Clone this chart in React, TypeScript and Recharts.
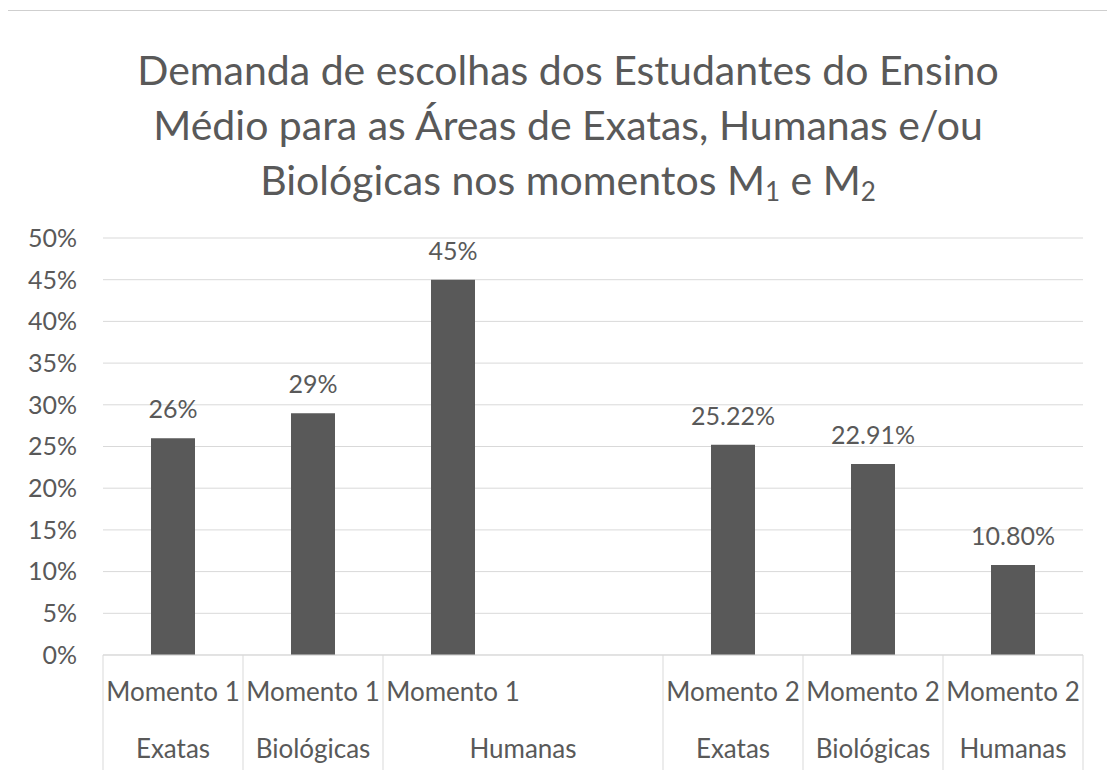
import { BarChart, Bar, XAxis, YAxis, CartesianGrid, LabelList } from "recharts";

// categories (two levels) and values
const moments = ["Momento 1", "Momento 1", "Momento 1", "", "Momento 2", "Momento 2", "Momento 2"];
const areas = ["Exatas", "Biológicas", "Humanas", "", "Exatas", "Biológicas", "Humanas"];
const values = [26, 29, 45, null, 25.22, 22.91, 10.8];
const valueLabels = ["26%", "29%", "45%", "", "25.22%", "22.91%", "10.80%"];
const yTicks = [0, 5, 10, 15, 20, 25, 30, 35, 40, 45, 50];

const data = moments.map((m, i) => ({
  key: `c${i}`,
  moment: m,
  area: areas[i],
  value: values[i],
  label: valueLabels[i],
}));

const FONT = "Lato, 'Open Sans', sans-serif";
const TEXT = "#595959";
const GRID = "#d9d9d9";
const SLOT = 140; // width of one category band

const CategoryTick = (props: any) => {
  const { x, y, payload } = props;
  const i = props.index ?? payload.index;
  const d = data[i];
  const left = x - SLOT / 2;
  const next = data[i + 1];
  // a group label followed by an empty slot spans both slots
  const areaX = d.area && next && !next.area ? x + SLOT / 2 : x;
  return (
    <g>
      {d.area && <line x1={left} x2={left} y1={y} y2={y + 118} stroke={GRID} />}
      {i === data.length - 1 && (
        <line x1={x + SLOT / 2} x2={x + SLOT / 2} y1={y} y2={y + 118} stroke={GRID} />
      )}
      <text x={x} y={y + 46} textAnchor="middle" fill={TEXT} fontSize={26} fontFamily={FONT}>
        {d.moment}
      </text>
      <text x={areaX} y={y + 103} textAnchor="middle" fill={TEXT} fontSize={26} fontFamily={FONT}>
        {d.area}
      </text>
    </g>
  );
};

const App = () => {
  return (
    <div style={{ position: "relative", width: 1115, height: 778, margin: -8, background: "#fff", overflow: "hidden" }}>
      <div
        style={{
          position: "absolute",
          left: 4,
          top: 10,
          width: 1130,
          height: 790,
          border: "1px solid #cfcfcf",
        }}
      />
      <div
        style={{
          position: "absolute",
          left: 0,
          top: 42,
          width: 1136,
          textAlign: "center",
          fontFamily: FONT,
          fontSize: 41,
          lineHeight: "55px",
          color: TEXT,
        }}
      >
        <div>Demanda de escolhas dos Estudantes do Ensino</div>
        <div>Médio para as Áreas de Exatas, Humanas e/ou</div>
        <div>
          Biológicas nos momentos M<sub style={{ fontSize: 26, verticalAlign: -6 }}>1</sub> e M
          <sub style={{ fontSize: 26, verticalAlign: -6 }}>2</sub>
        </div>
      </div>
      <div style={{ position: "absolute", left: 0, top: 0 }}>
        <BarChart width={1115} height={778} data={data} margin={{ top: 238, right: 32, bottom: 0, left: 0 }}>
          <CartesianGrid vertical={false} stroke={GRID} />
          <XAxis
            dataKey="key"
            height={123}
            interval={0}
            axisLine={{ stroke: GRID }}
            tickLine={false}
            tickSize={0}
            tickMargin={0}
            tick={<CategoryTick />}
          />
          <YAxis
            width={103}
            domain={[0, 50]}
            ticks={yTicks}
            tickFormatter={(v) => `${v}%`}
            axisLine={false}
            tickLine={false}
            tickSize={0}
            tickMargin={26}
            tick={{ fill: TEXT, fontSize: 25, fontFamily: FONT }}
          />
          <Bar dataKey="value" fill="#595959" barSize={44} isAnimationActive={false}>
            <LabelList dataKey="label" position="top" offset={20} fill={TEXT} fontSize={25} fontFamily={FONT} />
          </Bar>
        </BarChart>
      </div>
    </div>
  );
};

export default App;
